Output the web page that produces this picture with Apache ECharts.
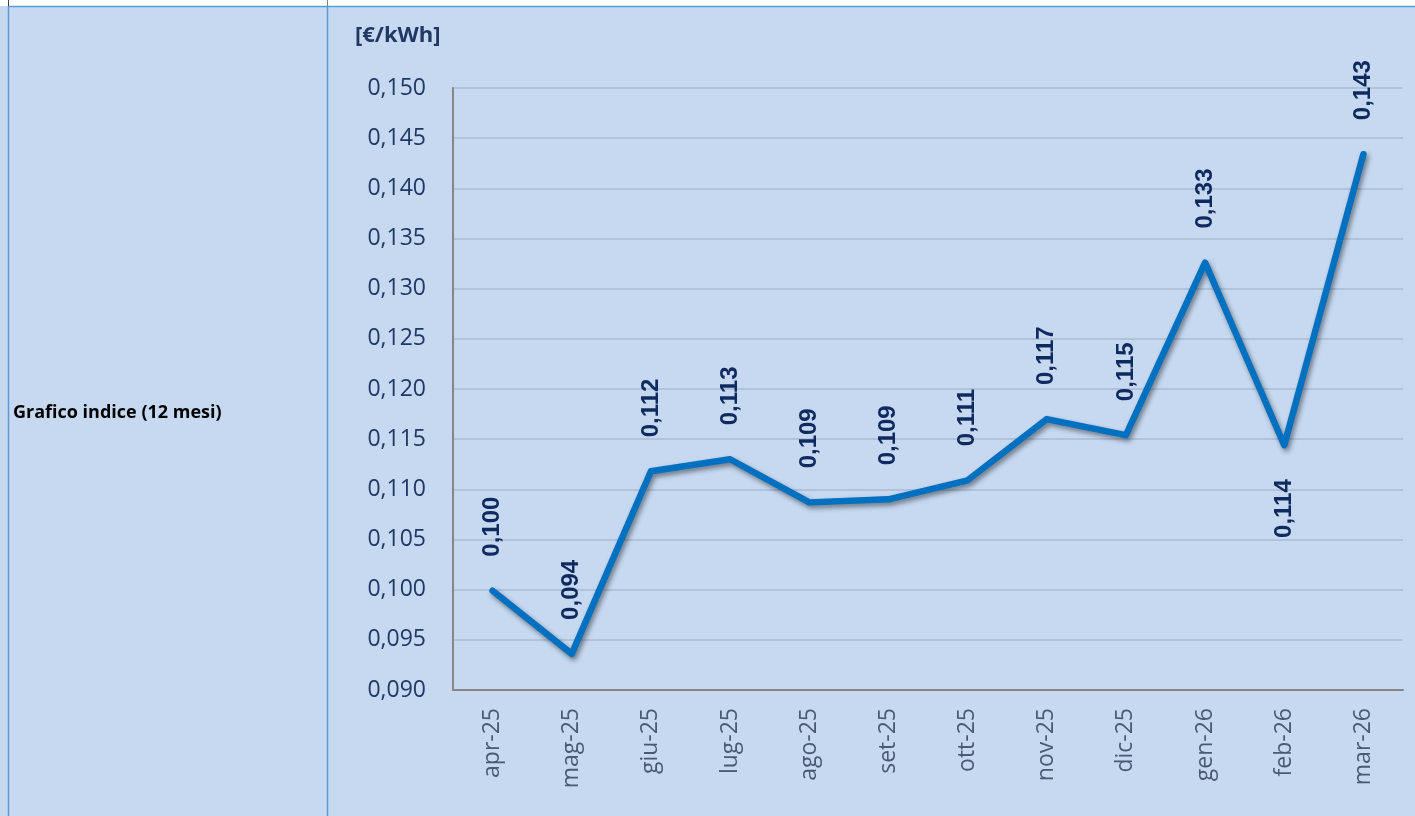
<!DOCTYPE html>
<html>
<head>
<meta charset="utf-8">
<script src="https://cdn.jsdelivr.net/npm/echarts@6/dist/echarts.min.js"></script>
<style>
html,body{margin:0;padding:0;background:#ffffff;}
#chart{width:1415px;height:816px;}
</style>
</head>
<body>
<div id="chart"></div>
<script>
const categories = ['apr-25','mag-25','giu-25','lug-25','ago-25','set-25','ott-25','nov-25','dic-25','gen-26','feb-26','mar-26'];
const values = [0.0999, 0.0936, 0.1118, 0.1130, 0.1087, 0.1090, 0.1109, 0.1170, 0.1154, 0.1326, 0.1144, 0.1434];
const belowLabelCategories = ['feb-26'];
const unitLabel = '[€/kWh]';
const rowLabel = 'Grafico indice (12 mesi)';

const fmt = v => v.toFixed(3).replace('.', ',');
const navy = '#1f3864';
const labelNavy = '#0f2a5e';

const seriesData = values.map((v, i) => {
  if (belowLabelCategories.indexOf(categories[i]) >= 0) {
    return { value: v, label: { position: 'bottom', align: 'right' } };
  }
  return v;
});

const chart = echarts.init(document.getElementById('chart'), null, { renderer: 'canvas' });
chart.setOption({
  animation: false,
  backgroundColor: '#ffffff',
  title: {
    text: unitLabel,
    left: 350, top: 20,
    textStyle: { fontFamily: 'Open Sans', fontWeight: 'bold', fontSize: 22, color: navy }
  },
  graphic: [
    { type: 'rect', z: -10, shape: { x: 0, y: 6, width: 1415, height: 810 }, style: { fill: '#c6d9f1' }, silent: true },
    { type: 'line', z: 100, shape: { x1: 8, y1: 6.5, x2: 1415, y2: 6.5 }, style: { stroke: '#5b9bd5', lineWidth: 1.5 } },
    { type: 'line', z: 100, shape: { x1: 8.5, y1: 6, x2: 8.5, y2: 816 }, style: { stroke: '#5b9bd5', lineWidth: 1.5 } },
    { type: 'line', z: 100, shape: { x1: 8.5, y1: 0, x2: 8.5, y2: 6 }, style: { stroke: '#404040', lineWidth: 1 } },
    { type: 'line', z: 100, shape: { x1: 327.5, y1: 6, x2: 327.5, y2: 816 }, style: { stroke: '#5b9bd5', lineWidth: 1.5 } },
    { type: 'line', z: 100, shape: { x1: 327.5, y1: 0, x2: 327.5, y2: 6 }, style: { stroke: '#808080', lineWidth: 1 } },
    { type: 'text', z: 100, style: { x: 13, y: 413, text: rowLabel, fontFamily: 'Open Sans', fontWeight: 'bold', fontSize: 18, fill: '#000000', textVerticalAlign: 'middle' } }
  ],
  grid: { left: 453, right: 12, top: 88, bottom: 126, containLabel: false, outerBoundsMode: 'none' },
  xAxis: {
    type: 'category',
    data: categories,
    boundaryGap: true,
    axisLine: { show: true, lineStyle: { color: '#868686', width: 2 } },
    axisTick: { show: false },
    axisLabel: { rotate: 90, margin: 18, fontFamily: 'Open Sans', fontSize: 23, color: '#4a5a75', interval: 0 },
    splitLine: { show: false }
  },
  yAxis: {
    type: 'value',
    min: 0.09, max: 0.15, interval: 0.005,
    axisLine: { show: true, lineStyle: { color: '#868686', width: 2 } },
    axisTick: { show: false },
    axisLabel: { margin: 27, fontFamily: 'Open Sans', fontSize: 23, color: navy, formatter: v => fmt(v) },
    splitLine: { show: true, lineStyle: { color: '#a9bbd3', width: 1.5 } }
  },
  series: [{
    type: 'line',
    data: seriesData,
    symbol: 'circle',
    symbolSize: 0.01,
    showSymbol: true,
    lineStyle: { color: '#0070c0', width: 6.5, shadowColor: 'rgba(0,0,0,0.45)', shadowBlur: 5, shadowOffsetX: 2, shadowOffsetY: 3, cap: 'round', join: 'round' },
    itemStyle: { color: '#0070c0', opacity: 1 },
    label: {
      show: true,
      position: 'top',
      distance: 34,
      rotate: 90,
      align: 'left',
      verticalAlign: 'middle',
      fontFamily: 'Liberation Sans',
      fontWeight: 'bold',
      fontSize: 24,
      color: labelNavy,
      formatter: p => fmt(p.value)
    },
    labelLayout: { hideOverlap: false }
  }]
});
</script>
</body>
</html>
